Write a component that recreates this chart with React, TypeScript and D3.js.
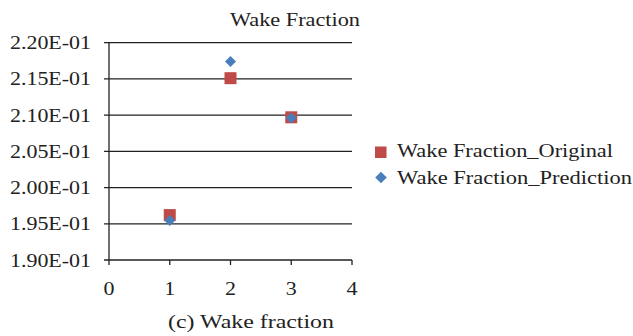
import React from "react";
import * as d3 from "d3";

const xTicks = [0, 1, 2, 3, 4];
const yTicks = [0.19, 0.195, 0.2, 0.205, 0.21, 0.215, 0.22];
const yTickLabels = ["1.90E-01", "1.95E-01", "2.00E-01", "2.05E-01", "2.10E-01", "2.15E-01", "2.20E-01"];
const xValues = [1, 2, 3];
const originalValues = [0.1962, 0.2151, 0.2097];
const predictionValues = [0.19545, 0.2174, 0.2096];
const seriesNames = ["Wake Fraction_Original", "Wake Fraction_Prediction"];
const title = "Wake Fraction";
const caption = "(c) Wake fraction";

const W = 633, H = 336;
const left = 109, right = 352, top = 42.7, bottom = 260;
const font = "'Liberation Serif', 'Times New Roman', serif";
const fs = 19.5;

export default function App() {
  const x = d3.scaleLinear().domain([0, 4]).range([left, right]);
  const y = d3.scaleLinear().domain([0.19, 0.22]).range([bottom, top]);
  const sq = 12;
  const diamond = (cx: number, cy: number, r: number) =>
    `M${cx},${cy - r}L${cx + r},${cy}L${cx},${cy + r}L${cx - r},${cy}Z`;
  return (
    <svg width={W} height={H} style={{ position: "absolute", left: 0, top: 0, background: "#fff" }}>
      <text x={230} y={26} fontFamily={font} fontSize={fs} textLength={130} lengthAdjust="spacingAndGlyphs" fill="#222">{title}</text>
      {yTicks.map((t, i) => (
        <g key={i}>
          <line x1={left - 5} x2={right} y1={y(t)} y2={y(t)} stroke="#222" strokeWidth={1.3} />
          <text x={10} y={y(t) + 6.5} fontFamily={font} fontSize={fs} textLength={81} lengthAdjust="spacingAndGlyphs" fill="#222">{yTickLabels[i]}</text>
        </g>
      ))}
      <line x1={left} x2={left} y1={top} y2={bottom} stroke="#222" strokeWidth={1.3} />
      {xTicks.map((t) => (
        <g key={t}>
          <line x1={x(t)} x2={x(t)} y1={bottom} y2={bottom + 5} stroke="#222" strokeWidth={1.3} />
          <text x={x(t) - 5.5} y={295} fontFamily={font} fontSize={fs} textLength={11} lengthAdjust="spacingAndGlyphs" fill="#222">{t}</text>
        </g>
      ))}
      {xValues.map((v, i) => (
        <rect key={"o" + i} x={x(v) - sq / 2} y={y(originalValues[i]) - sq / 2} width={sq} height={sq} fill="#BE4B48" />
      ))}
      {xValues.map((v, i) => (
        <path key={"p" + i} d={diamond(x(v), y(predictionValues[i]), 5.5)} fill="#4A7EBB" />
      ))}
      <rect x={375} y={146.5} width={11.5} height={11.5} fill="#BE4B48" />
      <text x={397} y={157} fontFamily={font} fontSize={fs} textLength={216} lengthAdjust="spacingAndGlyphs" fill="#222">{seriesNames[0]}</text>
      <path d={diamond(381, 177.5, 5.8)} fill="#4A7EBB" />
      <text x={397} y={184} fontFamily={font} fontSize={fs} textLength={235} lengthAdjust="spacingAndGlyphs" fill="#222">{seriesNames[1]}</text>
      <text x={168} y={328} fontFamily={font} fontSize={fs} textLength={166} lengthAdjust="spacingAndGlyphs" fill="#222">{caption}</text>
    </svg>
  );
}
